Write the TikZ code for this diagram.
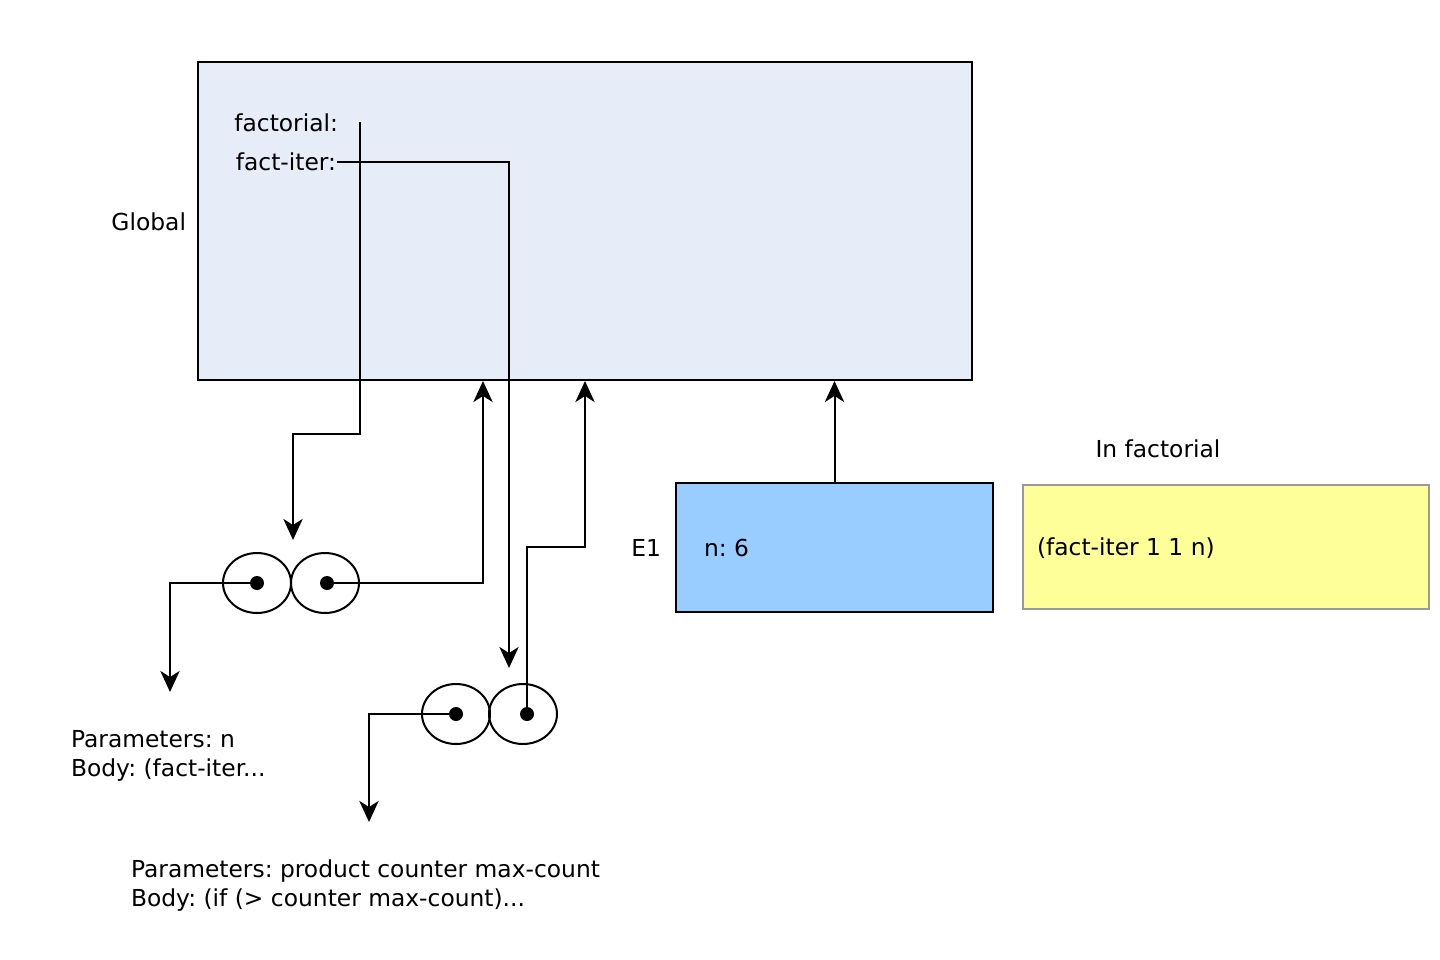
\documentclass[tikz,border=0pt]{standalone}
\usepackage{fontspec}
\setmainfont{DejaVu Sans}
\usetikzlibrary{positioning,arrows.meta,shapes.geometric}
\definecolor{globalfill}{HTML}{E6EDF8}
\definecolor{envfill}{HTML}{99CCFF}
\definecolor{codefill}{HTML}{FFFF99}
\frenchspacing

\begin{document}
\begin{tikzpicture}[x=0.02cm,y=-0.02cm,>={Stealth[length=12pt,width=11pt,inset=3.5pt]},line width=1.15pt,
  font=\fontsize{13.3}{16.5}\selectfont,
  frame/.style={draw,inner sep=0pt},
  half/.style={draw,ellipse,minimum width=1.36cm,minimum height=1.2cm,inner sep=0pt},
  dot/.style={circle,fill,inner sep=0pt,minimum size=0.28cm},
  lbl/.style={inner sep=0pt}]
\useasboundingbox (0,0) rectangle (1440,960);
% frames
\node[frame,fill=globalfill,minimum width=15.48cm,minimum height=6.36cm] (global) at (585,221) {};
\node[lbl,anchor=east] (globallbl) at (187,222) {Global};
\node[lbl,anchor=east] (fact) at (339,123) {factorial:};
\node[lbl,anchor=east] (iter) at (337,162) {fact-iter:};
\node[frame,fill=envfill,minimum width=6.34cm,minimum height=2.58cm] (e1) at (834.5,547.5) {};
\node[lbl,anchor=east] (e1lbl) at (662,548) {E1};
\node[lbl,anchor=west] (nval) at (703,548) {n: 6};
\node[frame,draw=black!40,fill=codefill,minimum width=8.12cm,minimum height=2.48cm] (code) at (1226,547) {};
\node[lbl] (codelbl) at (1158,449) {In factorial};
\node[lbl,anchor=west] (call) at (1036,548) {(fact-iter 1 1 n)};
% procedure objects
\node[half] (p1a) at (257,583) {};
\node[half] (p1b) at (325,583) {};
\node[dot] (d1) at (257,583) {};
\node[dot] (d2) at (327,583) {};
\node[half] (p2a) at (456,714) {};
\node[half] (p2b) at (523,714) {};
\node[dot] (d3) at (456,714) {};
\node[dot] (d4) at (527,714) {};
\node[lbl,anchor=west,align=left] (body1) at (70,756) {Parameters: n\\Body: (fact-iter...};
\node[lbl,anchor=west,align=left] (body2) at (130,886) {Parameters: product counter max-count\\Body: (if (> counter max-count)...};
% pointers
\coordinate (fs) at (360,122);
\coordinate (fe) at (293,540);
\coordinate (ie) at (509,668);
\coordinate (b1) at (170,692);
\coordinate (b2) at (369,822);
\coordinate (g1) at (483,381);
\coordinate (g2) at (585,381);
\draw[->] (fs) -- (360,434) -| (fe);
\draw[->] (iter.east) -| (ie);
\draw[->] (d1.center) -| (b1);
\draw[->] (d2.center) -| (g1);
\draw[->] (d3.center) -| (b2);
\draw[->] (d4.center) -- (527,547) -| (g2);
\draw[->] (e1.north) -- (e1.north |- global.south);
\end{tikzpicture}
\end{document}
